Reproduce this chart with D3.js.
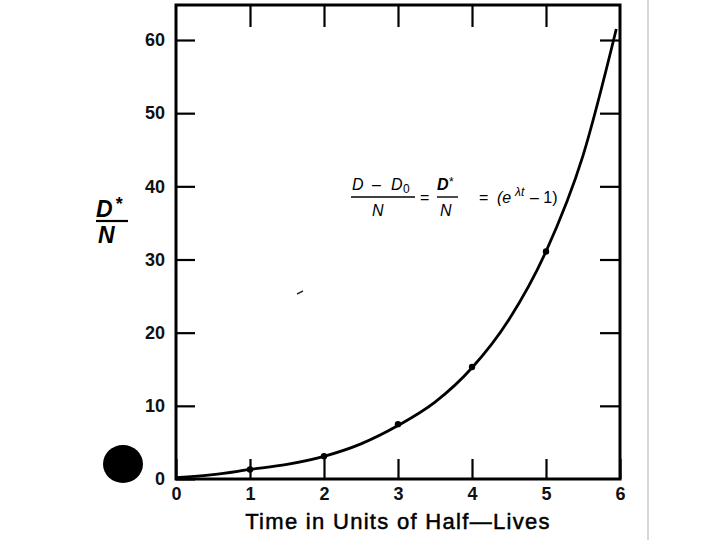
<!DOCTYPE html>
<html>
<head>
<meta charset="utf-8">
<script src="https://cdn.jsdelivr.net/npm/d3@7"></script>
<style>
  body { margin: 0; background: #fff; }
  svg { display: block; }
</style>
</head>
<body>
<div id="chart"></div>
<script>
// half-lives and D*/N values
const halfLives = [0, 0.5, 1, 1.5, 2, 2.5, 3, 3.5, 4, 4.5, 5, 5.5, 5.95];
const ratioValues = [0.2, 0.6, 1.3, 2.0, 3.1, 4.8, 7.3, 10.5, 15.2, 21.8, 31.1, 44.2, 61.5];

// the marked points
const markedT = [1, 2, 3, 4, 5];
const markedValues = [1.3, 3.1, 7.5, 15.3, 31.1];

const xTicks = [0, 1, 2, 3, 4, 5, 6];
const yTicks = [0, 10, 20, 30, 40, 50, 60];

const width = 720,
  height = 540;
const margin = { top: 5, right: 100, bottom: 61, left: 176 };
const font = "'Liberation Sans', Arial, sans-serif";

const svg = d3
  .select('#chart')
  .append('svg')
  .attr('width', width)
  .attr('height', height);

var x = d3.scaleLinear().domain([0, 6]).range([margin.left, width - margin.right]);
var y = d3.scaleLinear().domain([0, 60]).range([height - margin.bottom, 40]);
// top of frame sits above 60
var frameTop = margin.top;

// scan artefacts: punched hole and page edge
svg.append('ellipse')
  .attr('cx', 123).attr('cy', 464)
  .attr('rx', 20).attr('ry', 19)
  .attr('fill', '#000');

svg.append('line')
  .attr('x1', 648).attr('x2', 648)
  .attr('y1', 0).attr('y2', height)
  .attr('stroke', '#c8c8c8')
  .attr('stroke-width', 1.5);

// left axis with labels, ticks pointing in
var yAxis = d3.axisLeft(y).tickValues(yTicks).tickSizeInner(-19).tickSizeOuter(0).tickPadding(11)
  .tickFormat(d3.format('d'));
var gy = svg.append('g')
  .attr('transform', 'translate(' + x(0) + ',0)')
  .call(yAxis);

// right axis, no labels
var yAxisR = d3.axisRight(y).tickValues(yTicks.slice(1)).tickSizeInner(-20).tickSizeOuter(0).tickFormat('');
svg.append('g')
  .attr('transform', 'translate(' + x(6) + ',0)')
  .call(yAxisR);

// bottom axis with labels
var xAxis = d3.axisBottom(x).tickValues(xTicks).tickSizeInner(-20).tickSizeOuter(0).tickPadding(8)
  .tickFormat(d3.format('d'));
var gx = svg.append('g')
  .attr('transform', 'translate(0,' + y(0) + ')')
  .call(xAxis);

// top axis, no labels
var xAxisT = d3.axisTop(x).tickValues(xTicks.slice(1, 6)).tickSizeInner(-22).tickSizeOuter(0).tickFormat('');
svg.append('g')
  .attr('transform', 'translate(0,' + frameTop + ')')
  .call(xAxisT);

svg.selectAll('.domain').remove();
svg.selectAll('.tick line').attr('stroke', '#000').attr('stroke-width', 2.2);
svg.selectAll('.tick text')
  .attr('font-family', font)
  .attr('font-size', 18)
  .attr('font-weight', 'bold')
  .attr('fill', '#111');

// frame
svg.append('rect')
  .attr('x', x(0))
  .attr('y', frameTop)
  .attr('width', x(6) - x(0))
  .attr('height', y(0) - frameTop)
  .attr('fill', 'none')
  .attr('stroke', '#000')
  .attr('stroke-width', 3);

// the curve
var line = d3.line()
  .x(function(d, i) { return x(halfLives[i]); })
  .y(function(d) { return y(d); })
  .curve(d3.curveMonotoneX);

svg.append('path')
  .attr('d', line(ratioValues))
  .attr('fill', 'none')
  .attr('stroke', '#000')
  .attr('stroke-width', 2.8);

svg.selectAll('circle.pt')
  .data(markedValues)
  .enter()
  .append('circle')
  .attr('class', 'pt')
  .attr('cx', function(d, i) { return x(markedT[i]); })
  .attr('cy', function(d) { return y(d); })
  .attr('r', 3.2)
  .attr('fill', '#000');

// x title
svg.append('text')
  .attr('x', 398)
  .attr('y', 529)
  .attr('text-anchor', 'middle')
  .attr('font-family', font)
  .attr('font-size', 22)
  .attr('letter-spacing', 1.3)
  .attr('stroke', '#000')
  .attr('stroke-width', 0.5)
  .attr('fill', '#000')
  .text('Time in Units of Half\u2014Lives');

// y label as a fraction D*/N
var yl = svg.append('g')
  .attr('font-family', font)
  .attr('font-weight', 'bold')
  .attr('font-style', 'italic');
yl.append('text').attr('x', 96).attr('y', 217).attr('font-size', 23).text('D');
yl.append('text').attr('x', 115).attr('y', 210).attr('font-size', 18).text('*');
yl.append('line')
  .attr('x1', 96).attr('x2', 128)
  .attr('y1', 221).attr('y2', 221)
  .attr('stroke', '#000').attr('stroke-width', 2.2);
yl.append('text').attr('x', 98).attr('y', 243).attr('font-size', 23).text('N');

// equation
var eq = svg.append('g')
  .attr('font-family', font)
  .attr('font-size', 16)
  .attr('fill', '#000');
eq.append('text').attr('x', 352).attr('y', 190).attr('font-style', 'italic').text('D');
eq.append('text').attr('x', 372).attr('y', 190).text('\u2013');
eq.append('text').attr('x', 391).attr('y', 190).attr('font-style', 'italic').text('D');
eq.append('text').attr('x', 403).attr('y', 193).attr('font-size', 12).text('0');
eq.append('line').attr('x1', 351).attr('x2', 415).attr('y1', 197).attr('y2', 197).attr('stroke', '#000').attr('stroke-width', 1.4);
eq.append('text').attr('x', 372).attr('y', 216).attr('font-style', 'italic').text('N');
eq.append('text').attr('x', 420).attr('y', 203).text('=');
eq.append('text').attr('x', 437).attr('y', 190).attr('font-style', 'italic').attr('font-weight', 'bold').text('D');
eq.append('text').attr('x', 449).attr('y', 186).attr('font-size', 12).text('*');
eq.append('line').attr('x1', 437).attr('x2', 458).attr('y1', 197).attr('y2', 197).attr('stroke', '#000').attr('stroke-width', 1.4);
eq.append('text').attr('x', 440).attr('y', 216).attr('font-style', 'italic').text('N');
eq.append('text').attr('x', 479).attr('y', 203).text('=');
eq.append('text').attr('x', 497).attr('y', 203).attr('font-style', 'italic').text('(e');
eq.append('text').attr('x', 515).attr('y', 196).attr('font-size', 12).attr('font-style', 'italic').text('\u03bbt');
eq.append('text').attr('x', 530).attr('y', 203).text('\u2013 1)');

// stray mark from the scan
svg.append('line')
  .attr('x1', 297).attr('x2', 303)
  .attr('y1', 294).attr('y2', 291)
  .attr('stroke', '#333').attr('stroke-width', 1.5);
</script>
</body>
</html>
